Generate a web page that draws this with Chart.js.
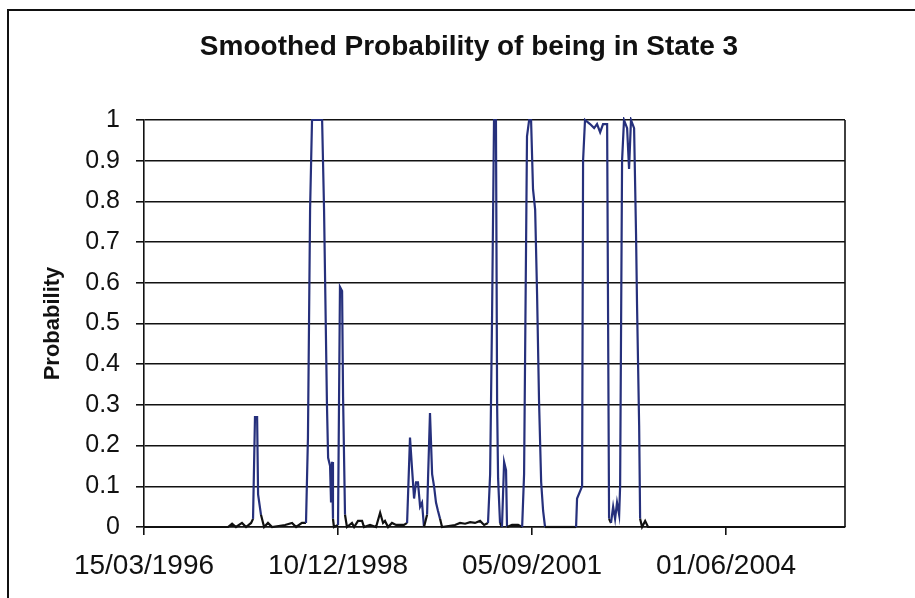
<!DOCTYPE html>
<html>
<head>
<meta charset="utf-8">
<title>Smoothed Probability of being in State 3</title>
<script src="https://cdn.jsdelivr.net/npm/chart.js@4.4.0/dist/chart.umd.min.js"></script>
<style>
  html, body { margin: 0; padding: 0; background: #fff; }
  #wrap { width: 915px; height: 598px; }
</style>
</head>
<body>
<div id="wrap"><canvas id="stateChart" width="915" height="598"></canvas></div>
<script>
// chart data
const chartTitle = 'Smoothed Probability of being in State 3';
const yTitle = 'Probability';

const dates = [
  '1996-03-15', '1997-05-22', '1997-06-12', '1997-07-02', '1997-08-02', '1997-08-23',
  '1997-09-18', '1997-09-28', '1997-10-08', '1997-10-19', '1997-10-24', '1997-11-08',
  '1997-11-24', '1997-12-14', '1998-01-04', '1998-03-12', '1998-04-17', '1998-05-08',
  '1998-06-07', '1998-06-28', '1998-07-08', '1998-07-19', '1998-07-29', '1998-09-19',
  '1998-09-29', '1998-10-14', '1998-10-20', '1998-10-30', '1998-11-04', '1998-11-09',
  '1998-11-14', '1998-11-19', '1998-12-10', '1998-12-20', '1998-12-31', '1999-01-05',
  '1999-01-15', '1999-01-25', '1999-02-20', '1999-03-03', '1999-03-23', '1999-04-13',
  '1999-04-23', '1999-05-24', '1999-06-24', '1999-07-15', '1999-07-30', '1999-08-09',
  '1999-08-25', '1999-09-14', '1999-10-05', '1999-11-15', '1999-12-01', '1999-12-16',
  '1999-12-27', '2000-01-06', '2000-01-16', '2000-01-26', '2000-02-06', '2000-02-16',
  '2000-02-26', '2000-03-13', '2000-03-18', '2000-03-28', '2000-04-08', '2000-04-18',
  '2000-04-28', '2000-05-08', '2000-05-19', '2000-05-29', '2000-08-04', '2000-08-30',
  '2000-09-25', '2000-10-21', '2000-11-15', '2000-12-11', '2001-01-01', '2001-01-21',
  '2001-02-01', '2001-02-11', '2001-02-21', '2001-03-03', '2001-03-09', '2001-03-14',
  '2001-03-24', '2001-04-03', '2001-04-14', '2001-04-24', '2001-04-29', '2001-05-25',
  '2001-06-25', '2001-07-16', '2001-07-26', '2001-08-10', '2001-08-21', '2001-08-31',
  '2001-09-10', '2001-09-21', '2001-10-01', '2001-10-11', '2001-10-22', '2001-11-01',
  '2001-11-11', '2002-04-20', '2002-04-25', '2002-05-21', '2002-05-26', '2002-06-05',
  '2002-07-01', '2002-07-22', '2002-08-06', '2002-08-22', '2002-09-06', '2002-09-27',
  '2002-10-07', '2002-10-17', '2002-10-28', '2002-11-07', '2002-11-17', '2002-11-28',
  '2002-12-03', '2002-12-13', '2002-12-23', '2003-01-08', '2003-01-18', '2003-01-28',
  '2003-02-13', '2003-02-23', '2003-02-28', '2003-03-11', '2003-03-16', '2003-03-26',
  '2003-04-11', '2003-04-26', '2006-02-04'
];

const probs = [
  0, 0, 0.008, 0, 0.01, 0,
  0.01, 0.02, 0.27, 0.27, 0.08, 0.03,
  0, 0.01, 0, 0.005, 0.01, 0,
  0.01, 0.01, 0.22, 0.78, 1.0, 1.0,
  0.78, 0.30, 0.17, 0.15, 0.06, 0.16,
  0.02, 0, 0.005, 0.59, 0.58, 0.32,
  0.03, 0, 0.01, 0, 0.015, 0.015,
  0, 0.005, 0, 0.035, 0.01, 0.015,
  0, 0.01, 0.005, 0.005, 0.01, 0.22,
  0.14, 0.07, 0.11, 0.11, 0.05, 0.06,
  0, 0.03, 0.12, 0.28, 0.13, 0.10,
  0.06, 0.04, 0.02, 0, 0.005, 0.01,
  0.008, 0.012, 0.01, 0.015, 0.005, 0.01,
  0.13, 0.52, 1.0, 1.0, 0.30, 0.12,
  0.01, 0, 0.16, 0.14, 0, 0.005,
  0.005, 0, 0.13, 0.96, 1.0, 1.0,
  0.83, 0.78, 0.57, 0.31, 0.11, 0.04,
  0, 0, 0.07, 0.10, 0.90, 1.0,
  0.99, 0.98, 0.99, 0.97, 0.99, 0.99,
  0.02, 0.01, 0.05, 0.02, 0.06, 0.03,
  0.10, 0.90, 1.0, 0.98, 0.88, 1.0,
  0.98, 0.72, 0.55, 0.25, 0.02, 0,
  0.015, 0, 0
];

const xTickLabels = ['15/03/1996', '10/12/1998', '05/09/2001', '01/06/2004'];
const yTickLabels = ['0', '0.1', '0.2', '0.3', '0.4', '0.5', '0.6', '0.7', '0.8', '0.9', '1'];

const lineColor = '#26307c';
const inkColor = '#111';
const fontFamily = '"Liberation Sans", Arial, sans-serif';

// excel style day number from an ISO date
function toSerial(iso) {
  const p = iso.split('-').map(Number);
  return Date.UTC(p[0], p[1] - 1, p[2]) / 864e5 + 25569;
}

function fromLabel(lbl) {
  const p = lbl.split('/').map(Number);
  return Date.UTC(p[2], p[1] - 1, p[0]) / 864e5 + 25569;
}

const xTickValues = xTickLabels.map(fromLabel);

// frame, plot border and title
const decorPlugin = {
  id: 'decor',
  beforeDraw(chart) {
    const c = chart.ctx;
    c.save();
    c.fillStyle = '#fff';
    c.fillRect(0, 0, chart.width, chart.height);
    c.strokeStyle = inkColor;
    c.lineWidth = 2;
    c.beginPath();
    c.moveTo(8, chart.height);
    c.lineTo(8, 10);
    c.lineTo(chart.width, 10);
    c.stroke();
    c.restore();
  },
  afterDraw(chart) {
    const c = chart.ctx;
    const a = chart.chartArea;
    c.save();
    c.strokeStyle = inkColor;
    c.lineWidth = 1.6;
    c.beginPath();
    c.moveTo(a.right, a.top);
    c.lineTo(a.right, a.bottom);
    c.stroke();
    c.fillStyle = inkColor;
    c.font = 'bold 28px ' + fontFamily;
    c.textAlign = 'center';
    c.textBaseline = 'middle';
    c.fillText(chartTitle, 469, 47);
    c.restore();
  }
};

const ctx = document.getElementById('stateChart').getContext('2d');

const stateChart = new Chart(ctx, {
  type: 'line',
  data: {
    datasets: [{
      label: 'State 3',
      data: dates.map((d, i) => ({ x: toSerial(d), y: probs[i] })),
      borderColor: lineColor,
      borderWidth: 2.2,
      pointRadius: 0,
      tension: 0,
      fill: false,
      clip: 3,
      segment: {
        borderColor: s => (s.p0.parsed.y < 0.04 && s.p1.parsed.y < 0.04) ? inkColor : lineColor
      }
    }]
  },
  options: {
    responsive: false,
    animation: false,
    layout: { padding: { left: 40, top: 120, right: 70, bottom: 0 } },
    plugins: {
      legend: { display: false },
      title: { display: false },
      tooltip: { enabled: false }
    },
    scales: {
      x: {
        type: 'linear',
        min: toSerial(dates[0]),
        max: toSerial(dates[dates.length - 1]),
        afterBuildTicks: scale => {
          scale.ticks = xTickValues.map(v => ({ value: v }));
        },
        afterFit: scale => { scale.height = 71; },
        grid: {
          drawOnChartArea: false,
          drawTicks: true,
          tickLength: 8,
          color: inkColor,
          lineWidth: 1.6
        },
        border: { color: inkColor, width: 1.6 },
        ticks: {
          autoSkip: false,
          maxRotation: 0,
          padding: 14,
          color: inkColor,
          font: { family: fontFamily, size: 28 },
          callback: function (value) {
            const i = xTickValues.indexOf(value);
            return i >= 0 ? xTickLabels[i] : '';
          }
        }
      },
      y: {
        min: 0,
        max: 1,
        afterFit: scale => { scale.width = 104; },
        grid: {
          color: inkColor,
          lineWidth: 1.6,
          drawTicks: true,
          tickLength: 8
        },
        border: { color: inkColor, width: 1.6 },
        title: {
          display: true,
          text: yTitle,
          color: inkColor,
          padding: 0,
          font: { family: fontFamily, size: 22, weight: 'bold' }
        },
        ticks: {
          stepSize: 0.1,
          autoSkip: false,
          padding: 16,
          color: inkColor,
          font: { family: fontFamily, size: 25 },
          callback: function (value) {
            return yTickLabels[Math.round(value * 10)];
          }
        }
      }
    }
  },
  plugins: [decorPlugin]
});
</script>
</body>
</html>
